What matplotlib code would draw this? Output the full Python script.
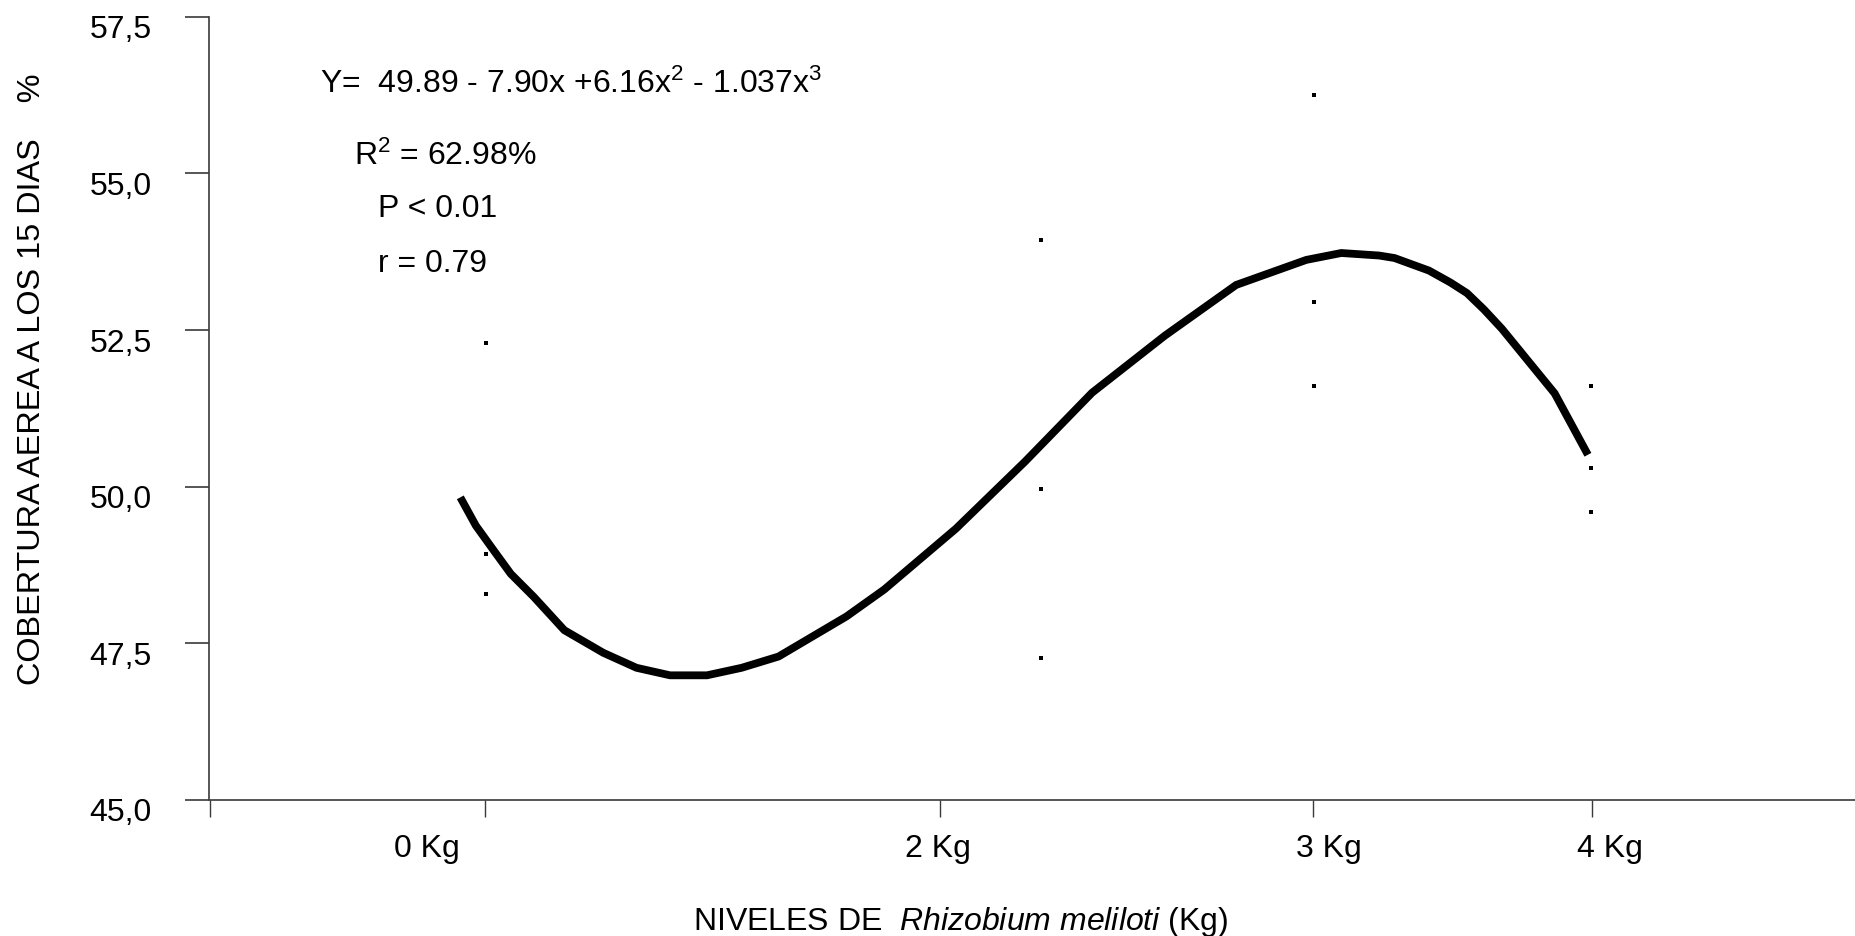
import matplotlib
matplotlib.use("Agg")
import matplotlib.pyplot as plt
import matplotlib.transforms as mtransforms

plt.rcParams['font.family'] = ['Liberation Sans', 'DejaVu Sans']
plt.rcParams['mathtext.fontset'] = 'custom'
plt.rcParams['mathtext.rm'] = 'Liberation Sans'
plt.rcParams['mathtext.it'] = 'Liberation Sans:italic'
plt.rcParams['mathtext.bf'] = 'Liberation Sans:bold'

# ---- data ----
# fitted cubic curve, vertices
curve_x = [0.000, 0.055, 0.119, 0.179, 0.261, 0.369, 0.507, 0.625, 0.744, 0.875,
           0.998, 1.129, 1.370, 1.504, 1.758, 2.003, 2.241, 2.499, 2.752, 3.001,
           3.125, 3.259, 3.314, 3.436, 3.512, 3.571, 3.631, 3.695, 3.882, 4.000]
curve_y = [49.83, 49.38, 48.98, 48.61, 48.24, 47.71, 47.35, 47.11, 46.99, 46.99,
           47.11, 47.29, 47.93, 48.36, 49.33, 50.40, 51.50, 52.41, 53.22, 53.62,
           53.73, 53.69, 53.65, 53.45, 53.26, 53.09, 52.83, 52.52, 51.49, 50.51]

# observed points (three replicates per level)
dose_pos = [0.09, 2.06, 3.03, 4.01]
obs_0kg = [52.29, 48.93, 48.29]
obs_2kg = [53.93, 49.96, 47.27]
obs_3kg = [56.25, 52.95, 51.60]
obs_4kg = [51.60, 50.30, 49.59]

# axis ticks / labels
x_tick_pos = [0.087, 1.70, 3.024, 4.014]
x_labels = ['0 Kg', '2 Kg', '3 Kg', '4 Kg']
x_label_pos = [-0.12, 1.695, 3.08, 4.077]
y_ticks = [45.0, 47.5, 50.0, 52.5, 55.0, 57.5]
y_labels = ['45,0', '47,5', '50,0', '52,5', '55,0', '57,5']

# ---- figure ----
W, H, DPI = 1856, 937, 100
fig = plt.figure(figsize=(W / DPI, H / DPI), dpi=DPI)
ax = fig.add_axes([209.5 / W, 1 - 801 / H, 1 - 209.5 / W, (801 - 17.8) / H])

XMIN, XMAX = -0.8897, 4.951
ax.set_xlim(XMIN, XMAX)
ax.set_ylim(45.0, 57.5)

for s in ['top', 'right']:
    ax.spines[s].set_visible(False)
for s in ['left', 'bottom']:
    ax.spines[s].set_color('#3a3a3a')
    ax.spines[s].set_linewidth(1.2)

ax.set_xticks([XMIN] + x_tick_pos)
ax.set_xticklabels([])
ax.set_yticks(y_ticks)
ax.set_yticklabels([])
ax.tick_params(axis='x', direction='out', length=12.5, width=1.0, color='#3a3a3a')
ax.tick_params(axis='y', direction='out', length=17.5, width=1.2, color='#3a3a3a')

# curve
ax.plot(curve_x, curve_y, color='black', lw=5.6, solid_joinstyle='miter',
        solid_capstyle='butt', clip_on=False, zorder=3)

# observed points
for xp, vals in zip(dose_pos, [obs_0kg, obs_2kg, obs_3kg, obs_4kg]):
    ax.plot([xp] * len(vals), vals, linestyle='none', marker='s', ms=2.5,
            mec='black', mfc='black', mew=0, zorder=4)

FS_TICK = 23
FS_TXT = 23

# y tick labels
ytr = ax.get_yaxis_transform() + mtransforms.ScaledTranslation(-57.5 / DPI, -20.5 / DPI, fig.dpi_scale_trans)
for v, lab in zip(y_ticks, y_labels):
    ax.text(0, v, lab, transform=ytr, ha='right', va='baseline', fontsize=FS_TICK,
            clip_on=False)

# x tick labels
xtr = ax.get_xaxis_transform() + mtransforms.ScaledTranslation(0, -56.5 / DPI, fig.dpi_scale_trans)
for xp, lab in zip(x_label_pos, x_labels):
    ax.text(xp, 0, lab, transform=xtr, ha='center', va='baseline', fontsize=FS_TICK,
            clip_on=False)

# axis titles
fig.text(961 / W, 1 - 930 / H,
         r'NIVELES DE  $\mathit{Rhizobium\ meliloti}$ (Kg$\mathit{)}$',
         ha='center', va='baseline', fontsize=23)
fig.text(32 / W, 1 - 379 / H, 'COBERTURA AEREA A LOS 15 DIAS    %',
         rotation=90, ha='center', va='center', fontsize=23.3)

# equation annotations
fig.text(319.6 / W, 1 - 93.3 / H, r'Y=  49.89 - 7.90x +6.16x$^2$ - 1.037x$^3$',
         ha='left', va='baseline', fontsize=FS_TXT)
fig.text(354 / W, 1 - 165 / H, r'R$^2$ = 62.98%', ha='left', va='baseline', fontsize=FS_TXT)
fig.text(378 / W, 1 - 216.7 / H, 'P < 0.01', ha='left', va='baseline', fontsize=FS_TXT)
fig.text(378 / W, 1 - 271.7 / H, 'r = 0.79', ha='left', va='baseline', fontsize=FS_TXT)

fig.savefig('out.png', dpi=DPI, facecolor='white')
